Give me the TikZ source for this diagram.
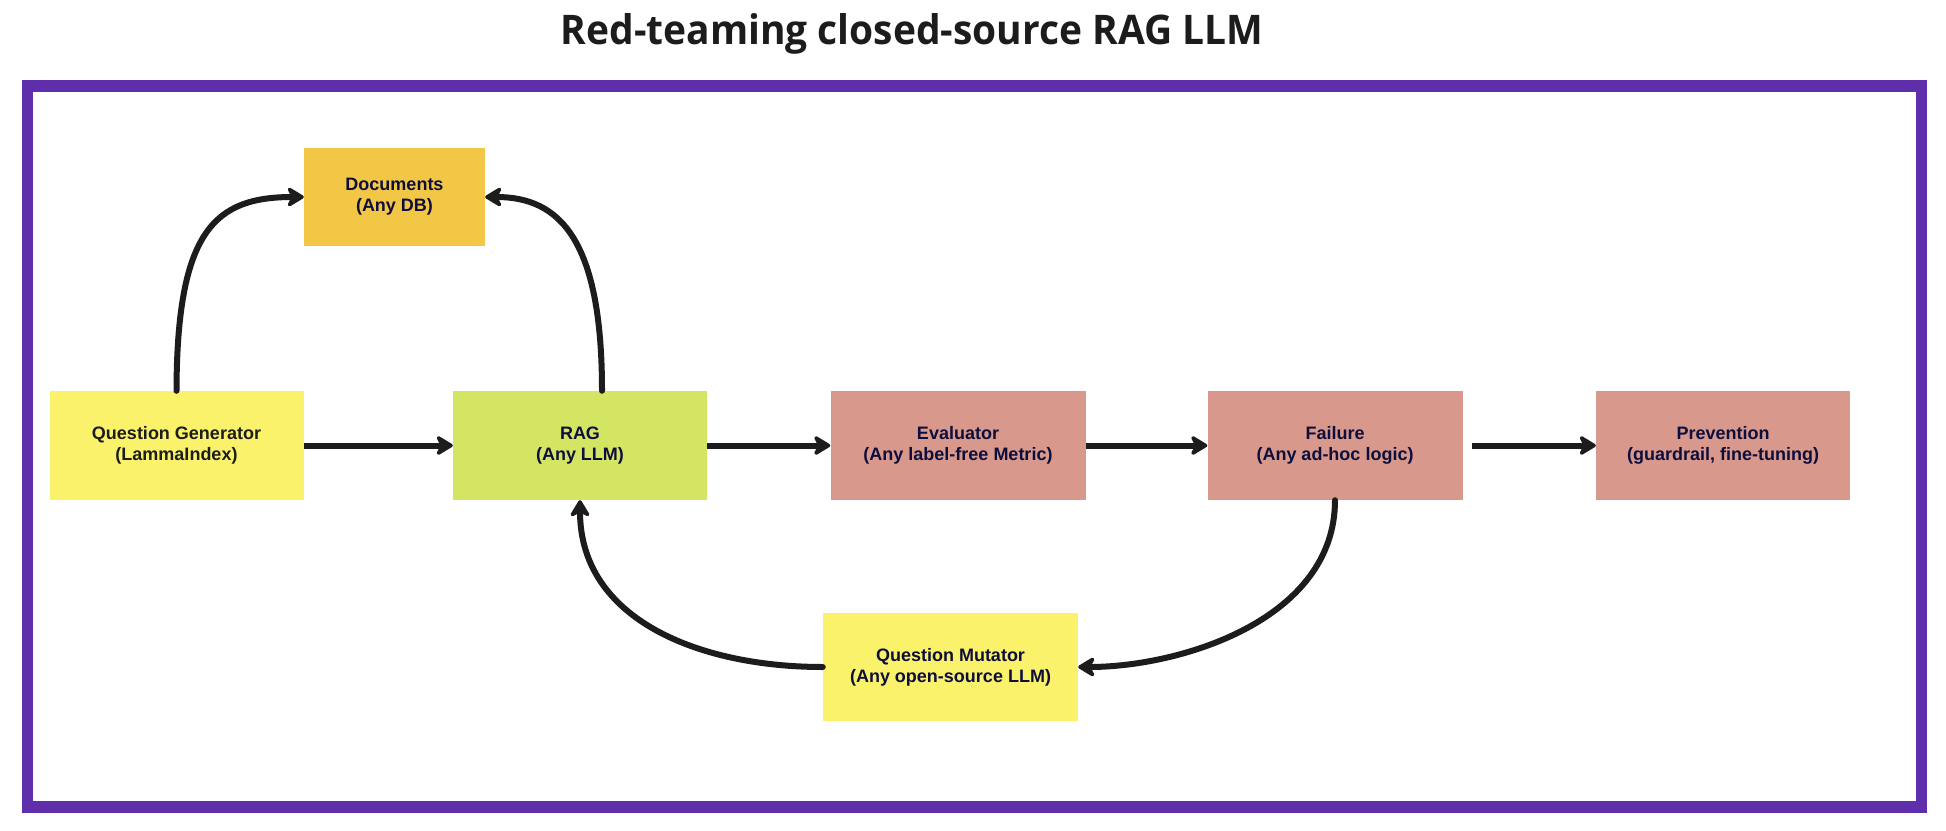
\documentclass[tikz,border=0pt]{standalone}
\usepackage{fontspec}
\setmainfont{Liberation Sans}
\newfontfamily\titlefont{Open Sans}
\usetikzlibrary{arrows.meta}
\definecolor{frameC}{HTML}{5F2EAA}
\definecolor{yellowC}{HTML}{FAF26A}
\definecolor{docC}{HTML}{F2C745}
\definecolor{ragC}{HTML}{D4E563}
\definecolor{redC}{HTML}{D8988C}
\definecolor{lineC}{HTML}{1C1C1C}
\definecolor{navyC}{HTML}{0E0E3C}
\definecolor{titleC}{HTML}{1C1C1C}
\tikzset{
  box/.style={fill=#1, draw=none, inner sep=0pt, align=center,
    font=\bfseries\fontsize{18}{21}\selectfont, text=navyC},
  conn/.style={draw=lineC, line width=6pt,
    -{Stealth[length=20pt,width=24pt,inset=6pt,round]}},
}
\begin{document}
\begin{tikzpicture}[x=1pt,y=-1pt]
\useasboundingbox (0,0) rectangle (1946,830);
\fill[white] (0,0) rectangle (1946,830);
% title
\node[anchor=base, inner sep=0pt, text=titleC] (title) at (912,44)
  {\resizebox{702pt}{31pt}{\titlefont\bfseries Red-teaming closed-source RAG LLM}};
% frame
\draw[frameC, line width=11.5pt] (27.5,86) rectangle (1921.5,807);
% nodes
\node[box=yellowC, minimum width=254pt, minimum height=109pt, text=titleC] (qg) at (176.5,445.5) {Question Generator\\(LammaIndex)};
\node[box=docC, minimum width=181pt, minimum height=98pt] (docs) at (394.5,197) {Documents\\(Any DB)};
\node[box=ragC, minimum width=254pt, minimum height=109pt] (rag) at (580,445.5) {RAG\\(Any LLM)};
\node[box=redC, minimum width=255pt, minimum height=109pt] (eval) at (958,445.5) {Evaluator\\(Any label-free Metric)};
\node[box=redC, minimum width=255pt, minimum height=109pt] (fail) at (1335,445.5) {Failure\\(Any ad-hoc logic)};
\node[box=redC, minimum width=254pt, minimum height=109pt] (prev) at (1723,445.5) {Prevention\\(guardrail, fine-tuning)};
\node[box=yellowC, minimum width=255pt, minimum height=108pt] (qm) at (950.5,667) {Question Mutator\\(Any open-source LLM)};
% connectors
\draw[conn] (qg.east) -- (rag.west);
\draw[conn] (rag.east) -- (eval.west);
\draw[conn] (eval.east) -- (fail.west);
\draw[conn] ([xshift=9pt]fail.east) -- (prev.west);
\draw[conn, line cap=round] (qg.north) .. controls (177,230) and (215,197) .. (docs.west);
\draw[conn, line cap=round] ([xshift=22pt]rag.north) .. controls (602,240) and (560,197) .. (docs.east);
\draw[conn, line cap=round] (fail.south) .. controls (1335,620) and (1180,667) .. (qm.east);
\draw[conn, line cap=round] (qm.west) .. controls (700,667) and (580,620) .. (rag.south);
\end{tikzpicture}
\end{document}
